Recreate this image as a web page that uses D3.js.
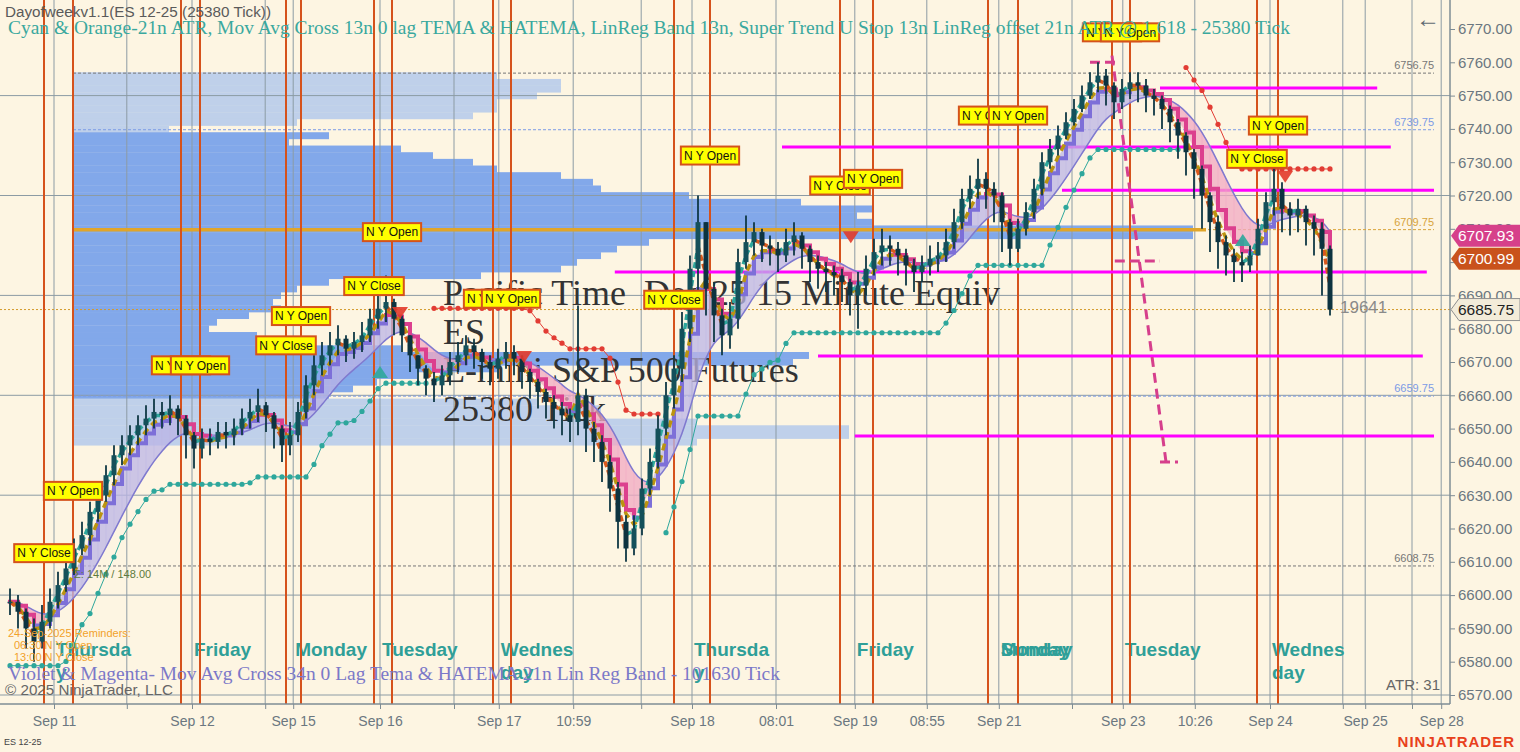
<!DOCTYPE html>
<html>
<head>
<meta charset="utf-8">
<script src="https://cdn.jsdelivr.net/npm/d3@7"></script>
<style>
  html, body { margin: 0; padding: 0; background: #fdf5e2; overflow: hidden; }
  svg { display: block; }
</style>
</head>
<body>
<div id="chart"></div>
<script>
// ---- data ----
const closes = [6598,6595,6590,6586,6592,6598,6603,6608,6614,6618,
  6625,6630,6636,6642,6645,6648,6651,6653,6655,6654,
  6656,6653,6648,6644,6647,6646,6649,6648,6650,6653,
  6655,6657,6654,6650,6645,6648,6655,6663,6669,6672,
  6675,6677,6674,6676,6678,6683,6686,6688,6683,6678,
  6672,6668,6665,6663,6666,6670,6672,6675,6673,6670,
  6668,6671,6673,6671,6667,6664,6661,6658,6656,6654,
  6652,6660,6650,6646,6640,6632,6622,6614,6620,6632,
  6640,6650,6660,6668,6680,6698,6712,6692,6684,6678,
  6683,6700,6706,6709,6705,6704,6702,6706,6708,6704,
  6700,6698,6697,6696,6694,6690,6693,6698,6703,6705,
  6704,6702,6699,6697,6699,6701,6702,6706,6712,6719,
  6722,6725,6722,6720,6712,6704,6710,6715,6722,6730,
  6734,6738,6742,6746,6750,6754,6756,6753,6748,6752,
  6754,6753,6750,6749,6746,6742,6738,6733,6728,6720,
  6712,6706,6702,6700,6699,6702,6710,6718,6722,6716,
  6714,6716,6712,6710,6704,6685.75];
const highs = [6602,6600,6596,6593,6597,6602,6607,6612,6617,6622,
  6628,6634,6639,6645,6648,6651,6654,6657,6659,6658,
  6660,6657,6654,6649,6650,6650,6652,6652,6653,6656,
  6659,6662,6658,6655,6651,6652,6658,6666,6672,6676,
  6679,6681,6678,6679,6682,6686,6690,6696,6689,6684,
  6678,6672,6669,6667,6669,6673,6676,6678,6677,6674,
  6672,6674,6676,6675,6672,6668,6665,6662,6660,6658,
  6656,6687,6662,6652,6648,6642,6634,6624,6624,6635,
  6644,6654,6664,6672,6685,6702,6720,6712,6694,6686,
  6688,6704,6714,6712,6710,6708,6706,6710,6712,6709,
  6705,6702,6700,6699,6698,6695,6697,6702,6707,6710,
  6708,6706,6704,6701,6702,6705,6706,6710,6716,6722,
  6726,6731,6727,6724,6721,6713,6713,6718,6725,6733,
  6737,6741,6745,6749,6753,6757,6760,6758,6754,6755,
  6757,6757,6755,6752,6750,6747,6743,6739,6734,6729,
  6721,6714,6708,6704,6703,6705,6713,6721,6730,6724,
  6718,6719,6717,6714,6712,6705];
const lows = [6594,6590,6584,6580,6584,6590,6596,6601,6606,6612,
  6615,6622,6628,6633,6639,6642,6645,6648,6650,6650,
  6651,6648,6641,6638,6641,6642,6644,6644,6645,6648,
  6650,6652,6649,6644,6640,6642,6646,6653,6660,6666,
  6669,6672,6670,6671,6673,6676,6680,6682,6678,6673,
  6667,6663,6660,6658,6660,6663,6667,6669,6668,6665,
  6663,6665,6668,6666,6662,6659,6656,6653,6650,6648,
  6646,6648,6643,6640,6634,6625,6614,6610,6612,6618,
  6630,6638,6648,6656,6664,6676,6690,6684,6676,6672,
  6674,6680,6698,6702,6700,6699,6697,6700,6702,6698,
  6694,6692,6691,6690,6688,6684,6680,6690,6696,6699,
  6699,6696,6693,6691,6694,6696,6697,6700,6704,6710,
  6716,6719,6716,6712,6703,6699,6703,6708,6713,6720,
  6728,6732,6737,6741,6745,6749,6751,6747,6743,6746,
  6749,6748,6745,6744,6740,6736,6731,6726,6719,6710,
  6703,6698,6696,6694,6694,6697,6702,6710,6714,6709,
  6708,6709,6705,6702,6690,6684];

// session markers (bar position), their flag text and flag price
const eventBars = [4.25, 7.875, 21.375, 23.75, 34.5, 36.375, 45.5, 47.75, 60.375, 62.625,
  83, 87.5, 103.75, 107.875, 122.25, 126, 137.75, 140, 155.875, 158.5];
const eventLabels = ['N Y Close','N Y Open','N Y Open','N Y Open','N Y Close','N Y Open','N Y Close','N Y Open','N Y Open','N Y Open',
  'N Y Close','N Y Open','N Y Close','N Y Open','N Y Open','N Y Open','N Y Open','N Y Open','N Y Close','N Y Open'];
const eventPrices = [6612.6, 6631.3, 6669, 6669, 6675, 6683.8, 6692.8, 6709, 6689, 6689,
  6688.7, 6732, 6723, 6725, 6744, 6744, 6769, 6769, 6731, 6741];

// time axis
const tickBars = [5.5, 14.6, 22.75, 31.9, 35.4, 46.25, 55.5, 61.1, 70.4, 78.9, 85.25, 95.75,
  105.6, 114.6, 123.6, 132.75, 139.1, 148.1, 157.5, 166.6, 169.4, 175.25, 178.9];
const tickLabels = ['Sep 11','','Sep 12','','Sep 15','Sep 16','','Sep 17','10:59','','Sep 18','08:01',
  'Sep 19','08:55','Sep 21','','Sep 23','10:26','Sep 24','','Sep 25','','Sep 28'];

// day of week captions
const dayBars = [5.5, 22.75, 35.4, 46.25, 61.1, 85.25, 105.6, 123.6, 123.6, 139.1, 157.5];
const dayNames = ['Thursda','Friday','Monday','Tuesday','Wednes','Thursda','Friday','Sunday','Monday','Tuesday','Wednes'];
const dayNames2 = ['y','','','','day','y','','','','','day'];

// volume profile of the first session
const profilePrices = [6756,6754,6752,6750,6748,6746,6744,6742,6740,6738,6736,6734,6732,6730,6728,
  6726,6724,6722,6720,6718,6716,6714,6712,6710,6708,6706,6704,6702,6700,6698,6696,6694,6692,6690,
  6688,6686,6684,6682,6680,6678,6676,6674,6672,6670,6668,6666,6664,6662,6660,6658,6656,6654,6652,
  6650,6648,6646];
const profileVol = [53,61,61,58,53,53,50,28,12,32,27,41,45,50,53,
  61,65,66,77,91,100,98,100,140,140,72,68,66,63,61,51,32,28,26,
  25,26,22,18,17,23,28,41,92,90,53,43,38,35,32,58,66,61,78,
  97,97,78];

// key levels: high, value area high, point of control, value area low, low
const levelPrices = [6756.75, 6739.75, 6709.75, 6659.75, 6608.75];
const levelKinds = ['high', 'vah', 'poc', 'val', 'low'];

// magenta support / resistance lines
const srPrices = [6752.3, 6734.6, 6721.6, 6697, 6671.8, 6647.8];
const srFrom = [143.75, 96.5, 131.5, 75.6, 101, 105.6];
const srTo = [170.9, 172.6, 178, 177.1, 176.6, 178];

// linreg projection
const projBars = [137.75, 144.5];
const projPrices = [6762, 6640];
const projTickFrom = [135, 138.1, 143.75];
const projTickTo = [138.5, 143.75, 146];
const projTickPrices = [6760, 6700.3, 6640];

// cross signals
const sigBars = [48.75, 64.25, 105.1, 159.4, 46.25, 154.1];
const sigPrices = [6684.7, 6671.5, 6707.5, 6725.6, 6667, 6706.6];
const sigDir = [-1, -1, -1, -1, 1, 1];

// price badges on the axis
const badgeValues = [6707.93, 6700.99, 6685.75];
const badgeKinds = ['slow', 'fast', 'last'];

// ---- setup ----
const W = 1520, H = 752, axisX = 1450, axisY = 704;
const sans = "'Liberation Sans', Arial, sans-serif";
const serif = "'Liberation Serif', 'Times New Roman', serif";

const svg = d3.select("#chart").append("svg")
  .attr("width", W).attr("height", H)
  .style("background", "#fdf5e2");

const x = d3.scaleLinear().domain([-1.25, 180]).range([0, axisX]);
const y = d3.scaleLinear().domain([6570, 6770]).range([695, 29]);
const vol = d3.scaleLinear().domain([0, 100]).range([0, 800]);

// indicators computed from the bars
function ema(arr, n) {
  const k = 2 / (n + 1), out = [];
  arr.forEach((v, i) => out.push(i ? out[i - 1] + k * (v - out[i - 1]) : v));
  return out;
}
const hl2 = highs.map((h, i) => (h + lows[i]) / 2);
const fast = ema(closes, 2);
const hatema = ema(hl2, 3);
const slow = ema(closes, 4);
const band = ema(ema(closes, 7), 4);

function superTrend(n, m) {
  const tr = closes.map((c, i) => i ? Math.max(highs[i] - lows[i], Math.abs(highs[i] - closes[i - 1]), Math.abs(lows[i] - closes[i - 1])) : highs[i] - lows[i]);
  const atr = ema(tr, n);
  const up = [], dn = [], dir = [], val = [];
  closes.forEach((c, i) => {
    let bu = hl2[i] + m * atr[i], bl = hl2[i] - m * atr[i];
    if (i > 0) {
      if (closes[i - 1] <= up[i - 1]) bu = Math.min(bu, up[i - 1]);
      if (closes[i - 1] >= dn[i - 1]) bl = Math.max(bl, dn[i - 1]);
    }
    up[i] = bu; dn[i] = bl;
    let d = i ? dir[i - 1] : 1;
    if (d === 1 && c < dn[i]) d = -1;
    else if (d === -1 && c > up[i]) d = 1;
    dir[i] = d;
    val[i] = d === 1 ? dn[i] : up[i];
  });
  return {val, dir};
}
const st = superTrend(8, 2.4);

// ---- volume profile ----
const anchor = x(eventBars[1]);
const gProf = svg.append("g");
gProf.selectAll("rect")
  .data(profilePrices)
  .join("rect")
    .attr("x", anchor)
    .attr("y", p => y(p + 1))
    .attr("width", (p, i) => vol(profileVol[i]))
    .attr("height", p => y(p - 1) - y(p + 1) + 0.3)
    .attr("fill", p => (p >= levelPrices[3] && p <= levelPrices[1]) ? "#82a8ea" : "#bfd0ea");

// ---- grid ----
svg.append("g").selectAll("line")
  .data([6750, 6720, 6690, 6660, 6630, 6600, 6570])
  .join("line")
    .attr("x1", 0).attr("x2", axisX)
    .attr("y1", d => y(d)).attr("y2", d => y(d))
    .attr("stroke", "#8c9ba4").attr("stroke-width", 1);
svg.append("g").selectAll("line")
  .data(tickBars)
  .join("line")
    .attr("x1", d => x(d)).attr("x2", d => x(d))
    .attr("y1", 0).attr("y2", axisY)
    .attr("stroke", "#8c9ba4").attr("stroke-width", 1);

// key level lines
const levelColor = {high: "#777", vah: "#7c9be6", poc: "#d8a43a", val: "#7c9be6", low: "#777"};
const gLev = svg.append("g");
levelPrices.forEach((p, i) => {
  const k = levelKinds[i];
  gLev.append("line")
    .attr("x1", anchor).attr("x2", x(178))
    .attr("y1", y(p)).attr("y2", y(p))
    .attr("stroke", levelColor[k]).attr("stroke-width", 1)
    .attr("stroke-dasharray", "3,2");
  gLev.append("text")
    .attr("x", x(178)).attr("y", y(p) - 4)
    .attr("text-anchor", "end")
    .style("font", `11px ${sans}`)
    .attr("fill", levelColor[k])
    .text(p.toFixed(2));
  if (k === "poc") {
    gLev.append("line")
      .attr("x1", anchor).attr("x2", x(149.5))
      .attr("y1", y(p)).attr("y2", y(p))
      .attr("stroke", "#e0a52a").attr("stroke-width", 3.5);
  }
});

// last price dotted line
svg.append("line")
  .attr("x1", 0).attr("x2", axisX)
  .attr("y1", y(closes[closes.length - 1])).attr("y2", y(closes[closes.length - 1]))
  .attr("stroke", "#d39a2a").attr("stroke-width", 1).attr("stroke-dasharray", "2,2");

// ---- overlay captions ----
const gTxt = svg.append("g").style("font-family", serif).attr("fill", "#333");
["Pacific Time  Dec 25 15 Minute Equiv", "ES", "E-mini S&P 500 Futures", "25380 Tick"].forEach((t, i) => {
  gTxt.append("text")
    .attr("x", 443).attr("y", 305 + i * 38.5)
    .style("font-size", "36px")
    .style("white-space", "pre")
    .attr("xml:space", "preserve")
    .text(t);
});

// day captions
const gDay = svg.append("g").style("font", `bold 19px ${sans}`).attr("fill", "#2f9f98");
dayBars.forEach((b, i) => {
  gDay.append("text").attr("x", x(b) + 2).attr("y", 656).text(dayNames[i]);
  if (dayNames2[i]) gDay.append("text").attr("x", x(b) + 2).attr("y", 679).text(dayNames2[i]);
});

// ---- session lines ----
svg.append("g").selectAll("line")
  .data(eventBars)
  .join("line")
    .attr("x1", d => x(d)).attr("x2", d => x(d))
    .attr("y1", 0).attr("y2", axisY)
    .attr("stroke", "#d5521c").attr("stroke-width", 2);

// magenta s/r lines
svg.append("g").selectAll("line")
  .data(srPrices)
  .join("line")
    .attr("x1", (d, i) => x(srFrom[i])).attr("x2", (d, i) => x(srTo[i]))
    .attr("y1", d => y(d)).attr("y2", d => y(d))
    .attr("stroke", "#ff00ff").attr("stroke-width", 3);

// ---- indicators ----
const gInd = svg.append("g");
const idx = d3.range(1, closes.length);

// band fill between slow line and smoothed band
gInd.selectAll(".bandfill")
  .data(idx)
  .join("path")
    .attr("class", "bandfill")
    .attr("d", i => `M${x(i - 1)},${y(slow[i - 1])}L${x(i)},${y(slow[i])}L${x(i)},${y(band[i])}L${x(i - 1)},${y(band[i - 1])}Z`)
    .attr("fill", i => slow[i] >= band[i] ? "#bcb5e6" : "#f1a9c2")
    .attr("stroke", i => slow[i] >= band[i] ? "#bcb5e6" : "#f1a9c2")
    .attr("stroke-width", 0.6)
    .attr("opacity", 0.75);

// smooth band line
gInd.append("path")
  .datum(band)
  .attr("d", d3.line().x((d, i) => x(i)).y(d => y(d)).curve(d3.curveBasis))
  .attr("fill", "none").attr("stroke", "#7f79cf").attr("stroke-width", 1.5);

// supertrend dots
const stRuns = [];
st.val.forEach((v, i) => {
  if (!i || st.dir[i] !== st.dir[i - 1]) stRuns.push([]);
  stRuns[stRuns.length - 1].push(i);
});
stRuns.forEach(run => {
  const col = st.dir[run[0]] === 1 ? "#2ea79c" : "#e23c34";
  gInd.append("path")
    .datum(run)
    .attr("d", d3.line().x(i => x(i)).y(i => y(st.val[i])))
    .attr("fill", "none").attr("stroke", col).attr("stroke-width", 1);
  gInd.selectAll(null)
    .data(run)
    .join("circle")
      .attr("cx", i => x(i)).attr("cy", i => y(st.val[i]))
      .attr("r", 2.6).attr("fill", col);
});

// slow step line: violet rising, magenta falling
gInd.selectAll(".slow")
  .data(idx)
  .join("path")
    .attr("class", "slow")
    .attr("d", i => `M${x(i - 1)},${y(slow[i - 1])}H${x(i)}V${y(slow[i])}`)
    .attr("fill", "none")
    .attr("stroke", i => slow[i] >= slow[i - 1] ? "#7d6fd8" : "#dc3f8e")
    .attr("stroke-width", 4).attr("stroke-linecap", "square");

// HATEMA dashed olive
gInd.append("path")
  .datum(hatema)
  .attr("d", d3.line().x((d, i) => x(i)).y(d => y(d)))
  .attr("fill", "none").attr("stroke", "#bb9410").attr("stroke-width", 3.5)
  .attr("stroke-dasharray", "7,5");

// fast TEMA dashed: cyan rising, orange falling
gInd.selectAll(".fast")
  .data(idx)
  .join("line")
    .attr("class", "fast")
    .attr("x1", i => x(i - 1)).attr("y1", i => y(fast[i - 1]))
    .attr("x2", i => x(i)).attr("y2", i => y(fast[i]))
    .attr("stroke", i => fast[i] >= fast[i - 1] ? "#2ea79c" : "#d9581c")
    .attr("stroke-width", 3.5)
    .attr("stroke-dasharray", "6,3");

// linreg projection
gInd.append("line")
  .attr("x1", x(projBars[0])).attr("y1", y(projPrices[0]))
  .attr("x2", x(projBars[1])).attr("y2", y(projPrices[1]))
  .attr("stroke", "#d63f8c").attr("stroke-width", 3).attr("stroke-dasharray", "10,6");
gInd.selectAll(".ptick")
  .data(projTickPrices)
  .join("line")
    .attr("class", "ptick")
    .attr("x1", (d, i) => x(projTickFrom[i])).attr("x2", (d, i) => x(projTickTo[i]))
    .attr("y1", d => y(d)).attr("y2", d => y(d))
    .attr("stroke", "#d63f8c").attr("stroke-width", 3).attr("stroke-dasharray", "10,5");

// ---- candles ----
const gC = svg.append("g");
gC.selectAll("line")
  .data(closes)
  .join("line")
    .attr("x1", (d, i) => x(i)).attr("x2", (d, i) => x(i))
    .attr("y1", (d, i) => y(highs[i])).attr("y2", (d, i) => y(lows[i]))
    .attr("stroke", "#0f3845").attr("stroke-width", 1.8);
gC.selectAll("rect")
  .data(closes)
  .join("rect")
    .attr("x", (d, i) => x(i) - 2.5)
    .attr("y", (d, i) => y(Math.max(d, i ? closes[i - 1] : d)))
    .attr("width", 5)
    .attr("height", (d, i) => Math.max(1.5, Math.abs(y(d) - y(i ? closes[i - 1] : d))))
    .attr("fill", (d, i) => (i && d < closes[i - 1]) ? "#0d3340" : "#14505a");

// signal triangles
svg.append("g").selectAll("path")
  .data(sigPrices)
  .join("path")
    .attr("transform", (d, i) => `translate(${x(sigBars[i])},${y(d)})`)
    .attr("d", (d, i) => sigDir[i] < 0 ? "M-8,-6L8,-6L0,6Z" : "M-8,6L8,6L0,-6Z")
    .attr("fill", (d, i) => sigDir[i] < 0 ? "#e23a2a" : "#2ea79c")
    .attr("opacity", 0.9);

// ---- session flags ----
const gFlag = svg.append("g");
eventBars.forEach((b, i) => {
  const g = gFlag.append("g").attr("transform", `translate(${x(b)},${y(eventPrices[i])})`);
  const r = g.append("rect");
  const t = g.append("text")
    .attr("text-anchor", "middle").attr("dy", "0.36em")
    .style("font", `12px ${sans}`).attr("fill", "#111")
    .text(eventLabels[i]);
  const w = t.node().getComputedTextLength();
  r.attr("x", -w / 2 - 3).attr("y", -9).attr("width", w + 6).attr("height", 18)
    .attr("fill", "#ffff00").attr("stroke", "#d5521c").attr("stroke-width", 2);
});

// ---- header and footer texts ----
svg.append("text").attr("x", 5).attr("y", 17)
  .style("font", `14px ${sans}`).attr("fill", "#5a5a5a")
  .attr("textLength", 266).attr("lengthAdjust", "spacingAndGlyphs")
  .text("Dayofweekv1.1(ES 12-25 (25380 Tick))");
svg.append("text").attr("x", 8).attr("y", 34)
  .style("font", `19px ${serif}`).attr("fill", "#3aa89e")
  .attr("textLength", 1282).attr("lengthAdjust", "spacingAndGlyphs")
  .text("Cyan & Orange-21n ATR, Mov Avg Cross 13n 0 lag TEMA & HATEMA, LinReg Band 13n, Super Trend U Stop 13n LinReg offset 21n ATR @ 1.618 - 25380 Tick");
svg.append("text").attr("x", 8).attr("y", 680)
  .style("font", `19px ${serif}`).attr("fill", "#7b78c8")
  .attr("textLength", 772).attr("lengthAdjust", "spacingAndGlyphs")
  .text("Violet & Magenta- Mov Avg Cross 34n 0 Lag Tema & HATEMA 21n Lin Reg Band - 101630 Tick");
svg.append("text").attr("x", 5).attr("y", 695)
  .style("font", `15px ${sans}`).attr("fill", "#666")
  .attr("textLength", 168).attr("lengthAdjust", "spacingAndGlyphs")
  .text("© 2025 NinjaTrader, LLC");

const gRem = svg.append("g").style("font", `11px ${sans}`).attr("fill", "#f2a12a");
gRem.append("text").attr("x", 8).attr("y", 637).text("24-Sep-2025 Reminders:");
gRem.append("text").attr("x", 14).attr("y", 649).text("06:30 N Y Open");
gRem.append("text").attr("x", 14).attr("y", 661).text("13:00 N Y Close");

svg.append("text").attr("x", 74).attr("y", 578)
  .style("font", `11px ${sans}`).attr("fill", "#5d7a3c")
  .text("Σ: 14M / 148.00");

svg.append("text").attr("x", x(closes.length - 1) + 10).attr("y", 313)
  .style("font", `17px ${sans}`).attr("fill", "#8a8a8a")
  .text("19641");
svg.append("text").attr("x", 1440).attr("y", 690).attr("text-anchor", "end")
  .style("font", `15px ${sans}`).attr("fill", "#666")
  .text("ATR: 31");
svg.append("text").attr("x", 1428).attr("y", 27).attr("text-anchor", "middle")
  .style("font", `24px ${sans}`).attr("fill", "#5f6b73")
  .text("←");

// ---- axes ----
const yAxis = svg.append("g")
  .attr("transform", `translate(${axisX},0)`)
  .call(d3.axisRight(y).tickValues(d3.range(6570, 6771, 10)).tickFormat(d3.format(".2f")).tickSize(5).tickPadding(3));
yAxis.select(".domain").remove();
yAxis.selectAll("line").attr("stroke", "#7e8c94");
yAxis.selectAll("text").style("font", `15px ${sans}`).attr("fill", "#6b7780");

const xAxis = svg.append("g")
  .attr("transform", `translate(0,${axisY})`)
  .call(d3.axisBottom(x).tickValues(tickBars).tickFormat((d, i) => tickLabels[i]).tickSize(5).tickPadding(7));
xAxis.select(".domain").remove();
xAxis.selectAll("line").attr("stroke", "#7e8c94");
xAxis.selectAll("text").style("font", `14px ${sans}`).attr("fill", "#6b7780");

svg.append("line").attr("x1", 0).attr("x2", axisX).attr("y1", axisY).attr("y2", axisY)
  .attr("stroke", "#7e8c94").attr("stroke-width", 1.5);
svg.append("line").attr("x1", axisX).attr("x2", axisX).attr("y1", 0).attr("y2", axisY)
  .attr("stroke", "#7e8c94").attr("stroke-width", 1.5);

// price badges
const badgeFill = {slow: "#d6408a", fast: "#c9521c", last: "#f3ecd9"};
const badgeText = {slow: "#fff", fast: "#fff", last: "#222"};
badgeValues.forEach((v, i) => {
  const k = badgeKinds[i];
  const g = svg.append("g").attr("transform", `translate(${axisX},${y(v)})`);
  g.append("path")
    .attr("d", "M1,0L9,-11L70,-11L70,11L9,11Z")
    .attr("fill", badgeFill[k])
    .attr("stroke", k === "last" ? "#8f8f8f" : "none");
  g.append("text").attr("x", 8).attr("dy", "0.36em")
    .style("font", `15.5px ${sans}`).attr("fill", badgeText[k])
    .text(v.toFixed(2));
});

svg.append("text").attr("x", 4).attr("y", 745)
  .style("font", `9px ${sans}`).attr("fill", "#444")
  .text("ES 12-25");
svg.append("text").attr("x", 1515).attr("y", 747).attr("text-anchor", "end")
  .style("font", `bold 15px ${sans}`).attr("fill", "#e8401c")
  .style("letter-spacing", "1px")
  .text("NINJATRADER");
</script>
</body>
</html>
